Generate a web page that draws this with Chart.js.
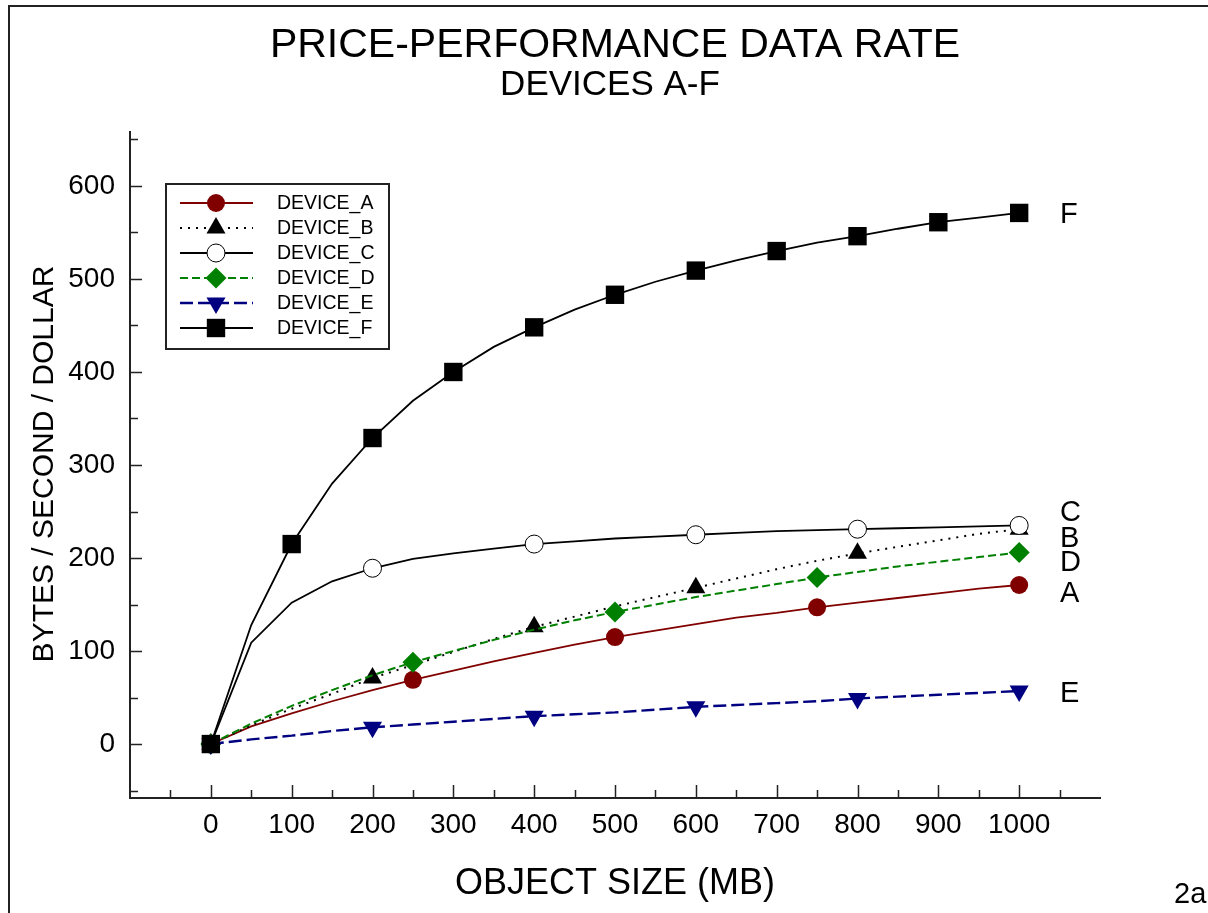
<!DOCTYPE html>
<html>
<head>
<meta charset="utf-8">
<script src="https://cdn.jsdelivr.net/npm/chart.js@4.4.1/dist/chart.umd.min.js"></script>
<style>
  html, body { margin: 0; padding: 0; background: #fff; }
  canvas { display: block; }
</style>
</head>
<body>
<canvas id="canvas" width="1208" height="913" style="width:1208px;height:913px"></canvas>
<script>
// object size (MB) where each curve has a vertex
const xs = [0, 50, 100, 150, 200, 250, 300, 350, 400, 450, 500, 550, 600, 650, 700, 750, 800, 850, 900, 950, 1000]

// bytes / second / dollar, one value per xs entry
const deviceA = [0, 19, 33, 46, 58, 69, 79, 89, 98, 107, 115, 122, 129, 136, 141, 147, 152, 157, 162, 167, 171]
const deviceB = [0, 20, 38, 54, 71, 85, 99, 113, 126, 137, 148, 158, 168, 178, 188, 197, 205, 212, 219, 226, 231]
const deviceC = [0, 109, 152, 175, 189, 199, 205, 210, 215, 218, 221, 223, 225, 227, 229, 230, 231, 232, 233, 234, 235]
const deviceD = [0, 22, 41, 58, 74, 88, 100, 112, 123, 133, 142, 150, 158, 165, 172, 179, 185, 191, 196, 201, 206]
const deviceE = [0, 5, 9, 14, 18, 21, 24, 27, 30, 32, 34, 37, 40, 42, 44, 46, 49, 51, 53, 55, 57]
const deviceF = [0, 128, 215, 280, 329, 369, 400, 427, 448, 467, 483, 497, 509, 520, 530, 539, 546, 554, 561, 566, 571]

// x values that get a symbol
const marksA = [0, 250, 500, 750, 1000]
const marksB = [0, 200, 400, 600, 800, 1000]
const marksC = [0, 200, 400, 600, 800, 1000]
const marksD = [0, 250, 500, 750, 1000]
const marksE = [0, 200, 400, 600, 800, 1000]
const marksF = [0, 100, 200, 300, 400, 500, 600, 700, 800, 900, 1000]

const seriesNames = ['DEVICE_A', 'DEVICE_B', 'DEVICE_C', 'DEVICE_D', 'DEVICE_E', 'DEVICE_F']
const endLabels = ['A', 'B', 'C', 'D', 'E', 'F']

const xTicks = [0, 100, 200, 300, 400, 500, 600, 700, 800, 900, 1000]
const yTicks = [0, 100, 200, 300, 400, 500, 600]

const chartTitle = 'PRICE-PERFORMANCE DATA RATE'
const chartSubtitle = 'DEVICES A-F'
const xTitle = 'OBJECT SIZE (MB)'
const yTitle = 'BYTES / SECOND / DOLLAR'
const figTag = '2a'

const FONT = '"Liberation Sans", Arial, Helvetica, sans-serif'

const makeSet = (i, ys, marks, style) => {
    return {
        label: seriesNames[i],
        data: ys.map((y, k) => ({x: xs[k], y: y})),
        showLine: true,
        tension: 0,
        order: 5 - i, // F drawn last, on top
        borderColor: style.line,
        borderWidth: style.width,
        borderDash: style.dash || [],
        pointStyle: style.shape,
        rotation: style.rotation || 0,
        pointRotation: style.rotation || 0,
        pointBackgroundColor: style.fill,
        pointBorderColor: style.edge || style.fill,
        pointBorderWidth: style.edgeWidth || 0,
        pointRadius: (ctx) => marks.includes(xs[ctx.dataIndex]) ? style.size : 0,
        pointHoverRadius: 0,
        fill: false,
        markSize: style.size
    }
}

const datasets = [
    makeSet(0, deviceA, marksA, {line: '#800000', width: 1.8, shape: 'circle', size: 9, fill: '#800000'}),
    makeSet(1, deviceB, marksB, {line: '#000', width: 2, dash: [2, 6], shape: 'triangle', size: 11, fill: '#000'}),
    makeSet(2, deviceC, marksC, {line: '#000', width: 1.8, shape: 'circle', size: 9, fill: '#fff', edge: '#000', edgeWidth: 1}),
    makeSet(3, deviceD, marksD, {line: '#008000', width: 2, dash: [8, 4], shape: 'rectRot', size: 10.5, fill: '#008000'}),
    makeSet(4, deviceE, marksE, {line: '#000080', width: 2.4, dash: [13, 5], shape: 'triangle', rotation: 180, size: 11, fill: '#000080'}),
    makeSet(5, deviceF, marksF, {line: '#000', width: 1.8, shape: 'rect', size: 13, fill: '#000'})
]

// page frame (top and left edges)
const framePlugin = {
    id: 'frame',
    beforeDraw(chart) {
        const ctx = chart.ctx
        ctx.save()
        ctx.fillStyle = '#fff'
        ctx.fillRect(0, 0, chart.width, chart.height)
        ctx.strokeStyle = '#222'
        ctx.lineWidth = 2
        ctx.beginPath()
        ctx.moveTo(9, chart.height)
        ctx.lineTo(9, 6)
        ctx.lineTo(chart.width, 6)
        ctx.stroke()
        ctx.restore()
    }
}

// tick marks pointing into the plot, majors plus halfway minors
const innerTicks = {
    id: 'innerTicks',
    afterDraw(chart) {
        const ctx = chart.ctx
        const xs_ = chart.scales.x
        const ys_ = chart.scales.y
        const area = chart.chartArea
        ctx.save()
        ctx.strokeStyle = '#222'
        ctx.lineWidth = 1.5
        ctx.beginPath()
        for (let v = xs_.min + 50; v < xs_.max; v += 50) {
            const px = Math.round(xs_.getPixelForValue(v)) + 0.5
            const len = (v % 100 === 0 && v >= 0 && v <= 1000) ? 13 : 8
            ctx.moveTo(px, area.bottom)
            ctx.lineTo(px, area.bottom - len)
        }
        for (let v = -50; v < ys_.max; v += 50) {
            const py = Math.round(ys_.getPixelForValue(v)) + 0.5
            const len = (v % 100 === 0 && v >= 0 && v <= 600) ? 12 : 8
            ctx.moveTo(area.left, py)
            ctx.lineTo(area.left + len, py)
        }
        ctx.stroke()
        ctx.restore()
    }
}

const drawMark = (ctx, ds, x, y) => {
    ctx.fillStyle = ds.pointBackgroundColor
    ctx.strokeStyle = ds.pointBorderColor
    ctx.lineWidth = ds.pointBorderWidth
    const opts = {pointStyle: ds.pointStyle, rotation: ds.pointRotation, radius: ds.markSize, borderWidth: ds.pointBorderWidth}
    Chart.helpers.drawPoint(ctx, opts, x, y)
}

// legend box with line sample + symbol
const legendPlugin = {
    id: 'legendBox',
    afterDraw(chart) {
        const ctx = chart.ctx
        ctx.save()
        ctx.fillStyle = '#fff'
        ctx.fillRect(166, 184, 223, 165)
        ctx.strokeStyle = '#222'
        ctx.lineWidth = 2
        ctx.strokeRect(166, 184, 223, 165)
        chart.data.datasets.forEach((ds, i) => {
            const y = 203 + i * 25
            ctx.strokeStyle = ds.borderColor
            ctx.lineWidth = ds.borderWidth
            ctx.setLineDash(ds.borderDash)
            ctx.beginPath()
            ctx.moveTo(180, y)
            ctx.lineTo(253, y)
            ctx.stroke()
            ctx.setLineDash([])
            drawMark(ctx, ds, 216, y)
            ctx.fillStyle = '#000'
            ctx.font = '19.5px ' + FONT
            ctx.textAlign = 'left'
            ctx.textBaseline = 'middle'
            ctx.fillText(ds.label, 277, y + 1)
        })
        ctx.restore()
    }
}

// titles, axis titles, curve end letters
const labelsPlugin = {
    id: 'texts',
    afterDraw(chart) {
        const ctx = chart.ctx
        ctx.save()
        ctx.fillStyle = '#000'
        ctx.textBaseline = 'alphabetic'
        ctx.textAlign = 'center'
        ctx.font = '41px ' + FONT
        ctx.fillText(chartTitle, 615, 57)
        ctx.font = '35px ' + FONT
        ctx.fillText(chartSubtitle, 610, 95)
        ctx.font = '36px ' + FONT
        ctx.fillText(xTitle, 615, 894)
        ctx.save()
        ctx.translate(53, 464)
        ctx.rotate(-Math.PI / 2)
        ctx.font = '30px ' + FONT
        ctx.fillText(yTitle, 0, 0)
        ctx.restore()
        ctx.textAlign = 'left'
        ctx.font = '29px ' + FONT
        ctx.fillText(figTag, 1174, 903)

        const shift = [8, 9, -13, 10, 2, 1]
        ctx.font = '29px ' + FONT
        ctx.textBaseline = 'middle'
        chart.data.datasets.forEach((ds, i) => {
            const meta = chart.getDatasetMeta(i)
            const last = meta.data[meta.data.length - 1]
            ctx.fillText(endLabels[i], 1060, last.y + shift[i] + 1)
        })
        ctx.restore()
    }
}

new Chart(document.querySelector('#canvas'), {
    type: 'scatter',
    data: {datasets: datasets},
    options: {
        responsive: false,
        animation: false,
        events: [],
        layout: {padding: {top: 132, right: 108, left: 0, bottom: 0}},
        scales: {
            x: {
                type: 'linear',
                min: -100,
                max: 1100,
                afterBuildTicks: (s) => { s.ticks = xTicks.map(v => ({value: v})) },
                afterFit: (s) => { s.height = 115 },
                grid: {display: false, drawTicks: false},
                border: {display: true, color: '#222', width: 2},
                ticks: {
                    padding: 10,
                    color: '#000',
                    maxRotation: 0,
                    autoSkip: false,
                    callback: (value) => String(value),
                    font: {family: FONT, size: 28}
                }
            },
            y: {
                type: 'linear',
                min: -58,
                max: 658,
                afterBuildTicks: (s) => { s.ticks = yTicks.map(v => ({value: v})) },
                afterFit: (s) => { s.width = 130 },
                grid: {display: false, drawTicks: false},
                border: {display: true, color: '#222', width: 2},
                ticks: {
                    padding: 15,
                    color: '#000',
                    callback: (value) => String(value),
                    font: {family: FONT, size: 28}
                }
            }
        },
        plugins: {
            legend: {display: false},
            title: {display: false},
            tooltip: {enabled: false}
        }
    },
    plugins: [framePlugin, innerTicks, legendPlugin, labelsPlugin]
})
</script>
</body>
</html>
